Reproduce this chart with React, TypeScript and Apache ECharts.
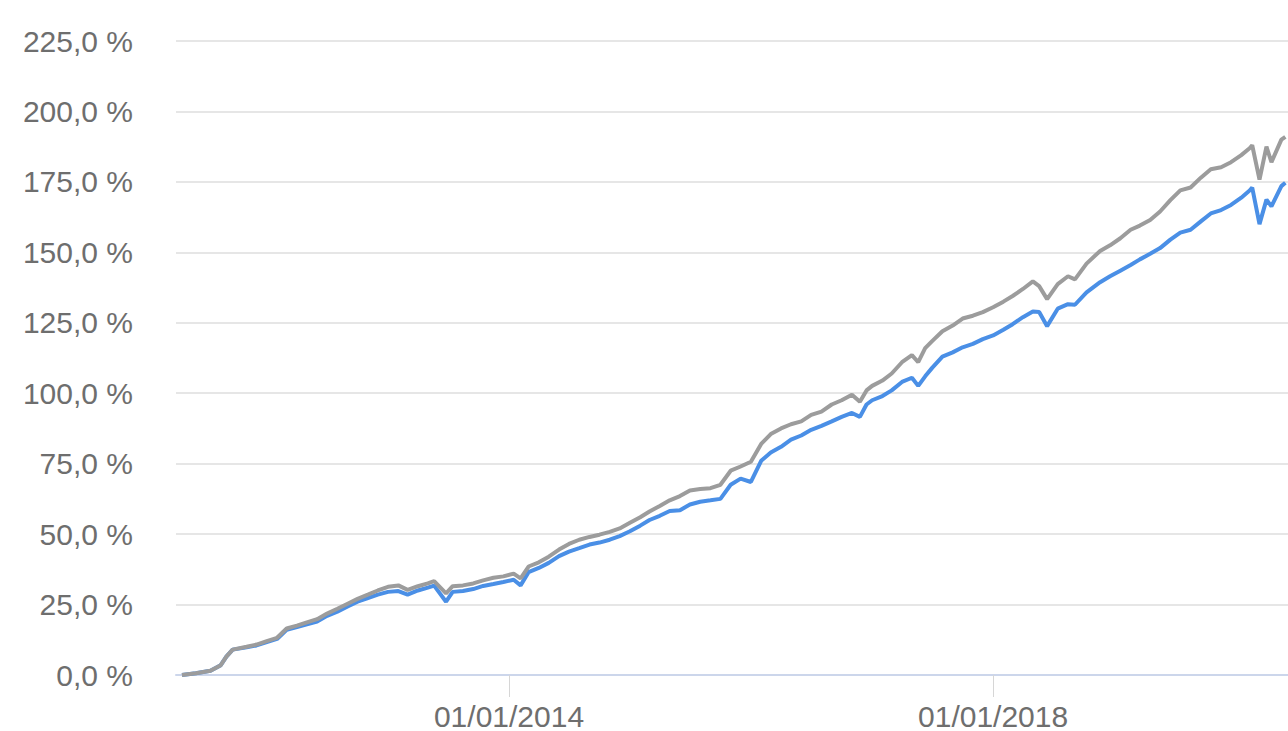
import React, { useEffect, useRef } from "react";
import * as echarts from "echarts";

const dates: string[] = [
  "2011-04-20", "2011-06-01", "2011-07-15", "2011-08-15", "2011-09-01", "2011-09-20", "2011-11-01", "2011-12-01",
  "2012-01-01", "2012-02-01", "2012-03-01", "2012-04-01", "2012-05-01", "2012-06-01", "2012-07-01", "2012-08-01",
  "2012-09-01", "2012-10-01", "2012-11-01", "2012-12-01",
  "2013-01-01", "2013-02-01", "2013-03-01", "2013-04-01", "2013-05-01", "2013-05-20", "2013-06-25", "2013-07-15",
  "2013-08-15", "2013-09-15", "2013-10-15", "2013-11-15", "2013-12-15",
  "2014-01-15", "2014-02-05", "2014-03-01", "2014-04-01", "2014-05-01", "2014-06-01", "2014-07-01", "2014-08-01",
  "2014-09-01", "2014-10-01", "2014-11-01", "2014-12-01",
  "2015-01-01", "2015-02-01", "2015-03-01", "2015-04-01", "2015-05-01", "2015-06-01", "2015-07-01", "2015-08-01",
  "2015-09-01", "2015-10-01", "2015-11-01", "2015-12-01",
  "2016-01-01", "2016-02-01", "2016-03-01", "2016-04-01", "2016-05-01", "2016-06-01", "2016-07-01", "2016-08-01",
  "2016-09-01", "2016-10-01", "2016-11-01", "2016-11-25", "2016-12-15",
  "2017-01-01", "2017-02-01", "2017-03-01", "2017-04-01", "2017-05-01", "2017-05-20", "2017-06-10", "2017-07-01",
  "2017-08-01", "2017-09-01", "2017-10-01", "2017-11-01", "2017-12-01",
  "2018-01-01", "2018-02-01", "2018-03-01", "2018-04-01", "2018-05-01", "2018-05-20", "2018-06-13", "2018-07-15",
  "2018-08-15", "2018-09-05", "2018-10-10", "2018-11-20", "2018-12-20",
  "2019-01-20", "2019-02-20", "2019-03-20", "2019-04-20", "2019-05-20", "2019-06-20", "2019-07-20", "2019-08-20",
  "2019-09-20", "2019-10-20", "2019-11-20", "2019-12-20",
  "2020-01-20", "2020-02-15", "2020-02-22", "2020-03-15", "2020-04-05", "2020-04-20", "2020-05-20", "2020-06-01",
];

const greyValues: number[] = [
  0, 0.6, 1.5, 3.5, 6.5, 9, 10, 10.8,
  12, 13.2, 16.5, 17.5, 18.7, 19.8, 21.8, 23.5,
  25.3, 27, 28.5, 30,
  31.3, 31.8, 30.2, 31.5, 32.5, 33.3, 29, 31.5,
  31.8, 32.5, 33.6, 34.5, 35,
  36, 34.3, 38.5, 40, 42, 44.5, 46.5, 48,
  49, 49.8, 50.8, 52,
  54, 56, 58, 60, 62, 63.5, 65.5, 66,
  66.3, 67.5, 72.5, 74,
  75.7, 82, 85.5, 87.5, 89, 90, 92.3, 93.5,
  96, 97.5, 99.5, 97, 101,
  102.6, 104.5, 107, 111, 113.5, 111, 116, 118.5,
  122, 124, 126.5, 127.5, 128.8,
  130.5, 132.5, 134.5, 137, 139.7, 138, 133.4, 138.7,
  141.5, 140.4, 146, 150.5, 152.5,
  155, 158, 159.5, 161.5, 164.5, 168.5, 172, 173,
  176.5, 179.5, 180.2, 182,
  184.5, 187, 188, 175.8, 187.5, 182, 190, 191,
];

const blueValues: number[] = [
  0, 0.6, 1.5, 3.5, 6.5, 9, 9.8, 10.5,
  11.7, 12.8, 16, 17, 18, 19, 21, 22.5,
  24.3, 26, 27.3, 28.5,
  29.5, 29.8, 28.5, 30, 31, 31.7, 26, 29.5,
  29.8, 30.5, 31.6, 32.3, 33,
  33.8, 31.8, 36.5, 38, 39.8, 42.2, 43.8, 45,
  46.3, 47, 48, 49.3,
  51, 53, 55, 56.5, 58.2, 58.5, 60.5, 61.5,
  62, 62.5, 67.5, 69.7,
  68.5, 76, 79, 81, 83.5, 85, 87, 88.4,
  90, 91.6, 93, 91.6, 96,
  97.5, 99, 101, 104, 105.5, 102.6, 106, 109,
  113, 114.5, 116.3, 117.5, 119.2,
  120.5, 122.5, 124.5, 127, 129, 128.8, 123.8, 130,
  131.6, 131.4, 135.8, 139.4, 141.5,
  143.5, 145.5, 147.5, 149.5, 151.5, 154.5, 157, 158,
  161, 163.8, 165, 166.8,
  169.4, 172, 173, 160, 168.7, 166.3, 173.5, 174.7,
];

const xLabelDates: string[] = ["2014-01-01", "2018-01-01"];
const xRange: string[] = ["2011-04-02", "2020-06-09"];

function ts(s: string): number {
  const [y, m, d] = s.split("-").map(Number);
  return Date.UTC(y, m - 1, d);
}

function pad(n: number): string {
  return n < 10 ? "0" + n : String(n);
}

export default function App() {
  const ref = useRef<HTMLDivElement>(null);

  useEffect(() => {
    if (!ref.current) return;
    const chart = echarts.init(ref.current, undefined, { renderer: "svg" });
    const fontFamily = "'Liberation Sans', Arial, sans-serif";
    const tickValues = xLabelDates.map(ts);
    chart.setOption({
      animation: false,
      backgroundColor: "#ffffff",
      grid: { left: 176, right: 0, top: 41, bottom: 54, containLabel: false },
      xAxis: {
        type: "value",
        min: ts(xRange[0]),
        max: ts(xRange[1]),
        axisLine: { show: true, lineStyle: { color: "#ccd6eb", width: 2 } },
        axisTick: {
          show: true,
          length: 22,
          customValues: tickValues,
          lineStyle: { color: "#d6d6d6", width: 1 },
        },
        axisLabel: {
          customValues: tickValues,
          margin: 26,
          color: "#6e6e6e",
          fontSize: 30,
          fontFamily,
          formatter: (v: number) => {
            const d = new Date(v);
            return pad(d.getUTCDate()) + "/" + pad(d.getUTCMonth() + 1) + "/" + d.getUTCFullYear();
          },
        },
        splitLine: { show: false },
      },
      yAxis: {
        type: "value",
        min: 0,
        max: 225,
        interval: 25,
        axisLine: { show: false },
        axisTick: { show: false },
        axisLabel: {
          margin: 43,
          color: "#6e6e6e",
          fontSize: 30,
          fontFamily,
          formatter: (v: number) => v.toFixed(1).replace(".", ",") + " %",
        },
        splitLine: { show: true, lineStyle: { color: "#e6e6e6", width: 2 } },
      },
      series: [
        {
          type: "line",
          name: "blue",
          data: dates.map((d, i) => [ts(d), blueValues[i]]),
          showSymbol: false,
          lineStyle: { color: "#4a8fe6", width: 4 },
          itemStyle: { color: "#4a8fe6" },
        },
        {
          type: "line",
          name: "grey",
          data: dates.map((d, i) => [ts(d), greyValues[i]]),
          showSymbol: false,
          lineStyle: { color: "#9c9c9c", width: 4 },
          itemStyle: { color: "#9c9c9c" },
        },
      ],
    });
    return () => chart.dispose();
  }, []);

  return (
    <div
      ref={ref}
      style={{ position: "fixed", left: 0, top: 0, width: 1288, height: 731, background: "#fff" }}
    />
  );
}
